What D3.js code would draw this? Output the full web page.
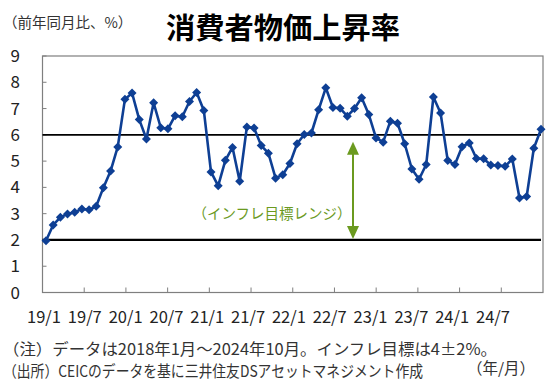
<!DOCTYPE html>
<html><head><meta charset="utf-8">
<script src="https://cdn.jsdelivr.net/npm/d3@7/dist/d3.min.js"></script>
<style>body{margin:0;background:#fff;}svg{display:block;font-family:"Noto Sans CJK JP","Noto Sans",sans-serif;}</style>
</head><body><svg id="c" width="550" height="386"></svg>
<script>
const months = [];
for (let y = 2019; y <= 2024; y++) for (let m = 1; m <= 12; m++) { if (y === 2024 && m > 10) break; months.push((y % 100) + "/" + m); }
const cpi = [1.97,2.57,2.86,2.99,3.05,3.18,3.15,3.28,3.99,4.62,5.54,7.35,
  7.59,6.58,5.84,7.22,6.27,6.23,6.73,6.69,7.27,7.61,6.93,4.59,
  4.06,5.03,5.52,4.23,6.30,6.26,5.59,5.30,4.35,4.48,4.91,5.66,
  6.01,6.07,6.95,7.79,7.04,7.01,6.71,7.00,7.41,6.77,5.88,5.72,
  6.52,6.44,5.66,4.70,4.31,4.87,7.44,6.83,5.02,4.87,5.55,5.69,
  5.10,5.09,4.85,4.83,4.80,5.08,3.60,3.65,5.49,6.21];
const xLabels = ["19/1","19/7","20/1","20/7","21/1","21/7","22/1","22/7","23/1","23/7","24/1","24/7"];
const yTicks = [0,1,2,3,4,5,6,7,8,9];
const targetBand = [2, 6];

const svg = d3.select("#c");
const L = 42.5, R = 543, T = 56, B = 292.5;
const y = d3.scaleLinear().domain([0, 9]).range([B, T]);
const x = d3.scaleLinear().domain([0, cpi.length - 1]).range([46, 541]);
const xt = d3.scaleLinear().domain([0, 12]).range([L, R]);
const xl = d3.scaleLinear().domain([0, xLabels.length - 1]).range([44, 493]);

// plot frame
svg.append("rect").attr("x", L).attr("y", T).attr("width", R - L).attr("height", B - T)
  .attr("fill", "none").attr("stroke", "#7f7f7f").attr("stroke-width", 1.2);

// y ticks inside
svg.selectAll(".yt").data(yTicks).enter().append("line")
  .attr("x1", L).attr("x2", L + 4).attr("y1", d => y(d)).attr("y2", d => y(d))
  .attr("stroke", "#7f7f7f");
svg.selectAll(".yl").data(yTicks).enter().append("text")
  .attr("x", 20).attr("y", d => y(d) + 6).attr("text-anchor", "end")
  .attr("font-size", 17).attr("fill", "#222").text(d => d);

// x ticks
svg.selectAll(".xt").data(d3.range(1, 12)).enter().append("line")
  .attr("x1", d => xt(d)).attr("x2", d => xt(d)).attr("y1", B).attr("y2", B - 5)
  .attr("stroke", "#7f7f7f");
svg.selectAll(".xl").data(xLabels).enter().append("text")
  .attr("x", (d, i) => xl(i)).attr("y", 323).attr("text-anchor", "middle")
  .attr("font-size", 16.5).attr("fill", "#222").text(d => d);

// target lines
svg.selectAll(".tl").data(targetBand).enter().append("line")
  .attr("x1", L).attr("x2", 541).attr("y1", d => y(d)).attr("y2", d => y(d))
  .attr("stroke", "#000").attr("stroke-width", (d, i) => i === 0 ? 2.2 : 1.6);

// arrow
const ax = 353, g = "#6b9a1f";
svg.append("line").attr("x1", ax).attr("x2", ax).attr("y1", y(targetBand[1]) + 14).attr("y2", y(targetBand[0]) - 14)
  .attr("stroke", g).attr("stroke-width", 2);
svg.append("path").attr("d", `M${ax},${y(targetBand[1]) + 7} l-6,13 h12 z`).attr("fill", g);
svg.append("path").attr("d", `M${ax},${y(targetBand[0]) - 1} l-6,-13 h12 z`).attr("fill", g);
svg.append("text").attr("x", 272).attr("y", y(2.8)).attr("text-anchor", "middle")
  .attr("font-size", 14.5).attr("fill", g).text("（インフレ目標レンジ）");

// series
const line = d3.line().x((d, i) => x(i)).y(d => y(d));
svg.append("path").datum(cpi).attr("d", line).attr("fill", "none")
  .attr("stroke", "#0e3f94").attr("stroke-width", 2.6).attr("stroke-linejoin", "round");
svg.selectAll(".mk").data(cpi).enter().append("path")
  .attr("transform", (d, i) => `translate(${x(i)},${y(d)})`)
  .attr("d", "M0,-4.5 L4.5,0 L0,4.5 L-4.5,0 Z").attr("fill", "#0e3f94");

// titles
svg.append("text").attr("x", 3).attr("y", 28).attr("font-size", 14.5).attr("fill", "#333").text("（前年同月比、%）");
svg.append("text").attr("x", 283).attr("y", 39).attr("text-anchor", "middle")
  .attr("font-size", 29).attr("font-weight", "bold").attr("fill", "#000")
  .attr("textLength", 234).attr("lengthAdjust", "spacingAndGlyphs").text("消費者物価上昇率");

// notes
svg.append("text").attr("x", 3).attr("y", 355).attr("font-size", 15.5).attr("fill", "#333")
  .attr("textLength", 494).attr("lengthAdjust", "spacingAndGlyphs")
  .text("（注）データは2018年1月～2024年10月。インフレ目標は4±2%。");
svg.append("text").attr("x", 3).attr("y", 377).attr("font-size", 15.5).attr("fill", "#333")
  .attr("textLength", 420).attr("lengthAdjust", "spacingAndGlyphs")
  .text("（出所）CEICのデータを基に三井住友DSアセットマネジメント作成");
svg.append("text").attr("x", 535).attr("y", 374).attr("text-anchor", "end").attr("font-size", 15.5).attr("fill", "#333")
  .text("（年/月）");
</script></body></html>
